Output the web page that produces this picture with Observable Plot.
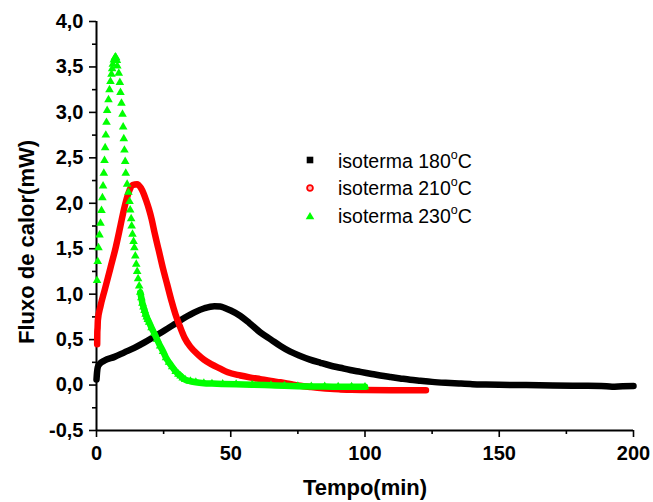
<!DOCTYPE html>
<html><head><meta charset="utf-8">
<script src="https://cdn.jsdelivr.net/npm/d3@7"></script>
<script src="https://cdn.jsdelivr.net/npm/@observablehq/plot@0.6"></script>
<style>
body{margin:0;background:#fff;}
#wrap{position:relative;width:653px;height:502px;font-family:"Liberation Sans",Arial,sans-serif;}
.leg{position:absolute;left:338px;font-size:19.5px;line-height:20px;color:#000;white-space:nowrap;}
.leg sup{font-size:12.5px;vertical-align:9px;line-height:0;}
.sym{position:absolute;overflow:visible;}
</style></head><body><div id="wrap"></div>
<script>
// ---- data ----
const seriesNames = ["isoterma 180", "isoterma 210", "isoterma 230"];
const seriesColors = ["#000000", "#ff0000", "#00ff00"];

const t180 = [0,0.2,0.5,1.1,3,6.7,10.4,14.1,17.9,21.6,25.3,29,32.8,36.5,40.2,43.9,46.1,48,50,53.6,57,61,65,68.5,72,75.9,79.5,83.4,87,90.8,94.5,98.3,102,105.7,109.5,113.1,116.8,120.6,125,130,135,140,145,150,160,170,180,188,192,196,200];
const v180 = [0.06,0.14,0.2,0.23,0.27,0.31,0.36,0.41,0.47,0.535,0.60,0.67,0.74,0.80,0.845,0.868,0.865,0.845,0.82,0.76,0.68,0.58,0.50,0.43,0.37,0.32,0.28,0.245,0.215,0.19,0.165,0.145,0.125,0.105,0.088,0.073,0.058,0.047,0.035,0.025,0.017,0.01,0.006,0.003,0,-0.005,-0.008,-0.01,-0.018,-0.012,-0.01];

const t210 = [0.25,0.3,0.4,0.5,1.5,3,5.2,7.2,8.9,10.2,12,13.5,15.1,16.5,17.5,18.5,19.5,20.5,21.6,22.3,23.2,24.7,26.3,27.8,29.4,31,32.8,35,38,40,42.7,46.1,48.9,53.6,57,61,65,68.5,72,75.9,80,83.4,87,90.8,95,100,110,122.7];
const v210 = [0.45,0.58,0.63,0.71,0.87,1.04,1.29,1.52,1.75,1.93,2.12,2.2,2.21,2.17,2.11,2.03,1.94,1.83,1.68,1.59,1.48,1.29,1.11,0.94,0.78,0.65,0.52,0.42,0.33,0.28,0.23,0.18,0.14,0.105,0.085,0.065,0.045,0.03,0.012,-0.008,-0.022,-0.033,-0.042,-0.048,-0.053,-0.055,-0.057,-0.057];

const t230 = [0.2,0.45,0.74,1.12,1.49,1.86,2.2,2.45,2.73,2.98,3.22,3.47,3.72,3.97,4.47,4.84,5.2,5.58,5.83,6.08,6.45,6.8,7.05,7.3,7.6,7.75,8.3,8.7,8.93,9.3,9.68,9.93,10.17,10.4,10.68,10.9,11.4,11.9,12.3,12.55,12.9,13.1,13.4,13.8,14.1,14.45,14.8,15.15,15.5,15.9,16.3,16.7,17.1,17.5,17.9,18.3,18.7,19.1,19.6,20.5,21.5,22.6,23.7,24.8,25.9,27,28.2,29.5,30.5,31.3,32.1,33,35,37,40,43,47,52,58,65,70,75,80,85,90,95,100];
const v230 = [1.15,1.36,1.51,1.65,1.78,1.92,2.06,2.19,2.33,2.47,2.61,2.75,2.89,3.02,3.14,3.25,3.34,3.42,3.48,3.53,3.575,3.6,3.61,3.6,3.57,3.51,3.43,3.33,3.22,3.10,2.98,2.84,2.71,2.585,2.46,2.33,2.21,2.12,2.02,1.925,1.83,1.75,1.66,1.58,1.51,1.42,1.33,1.25,1.17,1.09,1.02,0.96,0.9,0.86,0.82,0.78,0.75,0.72,0.69,0.63,0.57,0.50,0.43,0.37,0.30,0.25,0.20,0.15,0.12,0.10,0.077,0.06,0.042,0.03,0.02,0.016,0.012,0.008,0.004,-0.003,-0.008,-0.012,-0.015,-0.017,-0.018,-0.019,-0.02];

const xDomain = [0, 200];
const yDomain = [-0.5, 4.0];
const xTicks = [0, 50, 100, 150, 200];
const xMinor = [25, 75, 125, 175];
const yTicks = [-0.5, 0, 0.5, 1.0, 1.5, 2.0, 2.5, 3.0, 3.5, 4.0];
const yMinor = [-0.25, 0.25, 0.75, 1.25, 1.75, 2.25, 2.75, 3.25, 3.75];
const xTitle = "Tempo(min)";
const yTitle = "Fluxo de calor(mW)";

// ---- build ----
const mk = (ts, vs) => ts.map((t, i) => ({t, v: vs[i]}));
const d180 = mk(t180, v180), d210 = mk(t210, v210), d230 = mk(t230, v230);
const fmtY = d => d.toFixed(1).replace(".", ",");
const lineOpts = c => ({x: "t", y: "v", stroke: c, strokeWidth: 6.5, strokeLinejoin: "round", strokeLinecap: "round", curve: "monotone-x"});

const chart = Plot.plot({
  width: 653, height: 502,
  marginLeft: 96, marginRight: 20, marginTop: 21, marginBottom: 72,
  style: {fontFamily: '"Liberation Sans", Arial, sans-serif', color: "#000", background: "#fff"},
  x: {domain: xDomain, label: null},
  y: {domain: yDomain, label: null},
  marks: [
    Plot.axisX({ticks: xTicks, tickSize: 7, tickPadding: 8, fontSize: 20, fontWeight: "bold", strokeWidth: 1.6, label: null}),
    Plot.axisX({ticks: xMinor, tickSize: 4, tickFormat: () => "", strokeWidth: 1.6, label: null}),
    Plot.axisY({ticks: yTicks, tickSize: 7, tickPadding: 6, tickFormat: fmtY, fontSize: 20, fontWeight: "bold", strokeWidth: 1.6, label: null}),
    Plot.axisY({ticks: yMinor, tickSize: 4, tickFormat: () => "", strokeWidth: 1.6, label: null}),
    Plot.ruleX([xDomain[0]], {strokeWidth: 2}),
    Plot.ruleY([yDomain[0]], {strokeWidth: 2}),
    Plot.line(d180, lineOpts(seriesColors[0])),
    Plot.line(d210, lineOpts(seriesColors[1])),
    Plot.line(d230.filter(d => d.t >= 16), lineOpts(seriesColors[2])),
    Plot.dot(d230, {x: "t", y: "v", symbol: "triangle", r: 3.2, fill: seriesColors[2]}),
    Plot.text([xTitle], {frameAnchor: "bottom", textAnchor: "middle", lineAnchor: "middle", dy: 57, fontSize: 22, fontWeight: "bold"}),
    Plot.text([yTitle], {frameAnchor: "left", textAnchor: "middle", lineAnchor: "middle", rotate: -90, dx: -70, dy: 16, fontSize: 22, fontWeight: "bold"})
  ]
});
const wrap = document.getElementById("wrap");
wrap.appendChild(chart);

// ---- legend overlay ----
const legTops = [150.5, 178.3, 206];
const symSvgs = [
  '<rect x="-3.3" y="-3.3" width="6.6" height="6.6" fill="#000"/>',
  '<circle r="2.9" fill="#ffb8b8" stroke="#ff0000" stroke-width="1.8"/>',
  '<path d="M0,-4 L4.3,3.2 L-4.3,3.2 Z" fill="#00ff00"/>'
];
seriesNames.forEach((name, i) => {
  const div = document.createElement("div");
  div.className = "leg";
  div.style.top = legTops[i] + "px";
  div.innerHTML = name + "<sup>o</sup>C";
  wrap.appendChild(div);
  const s = document.createElementNS("http://www.w3.org/2000/svg", "svg");
  s.setAttribute("class", "sym");
  s.setAttribute("width", 12); s.setAttribute("height", 12);
  s.setAttribute("viewBox", "-6 -6 12 12");
  s.style.left = (310 - 6) + "px";
  s.style.top = (legTops[i] + 9.5 - 6) + "px";
  s.innerHTML = symSvgs[i];
  wrap.appendChild(s);
});
</script>
</body></html>
